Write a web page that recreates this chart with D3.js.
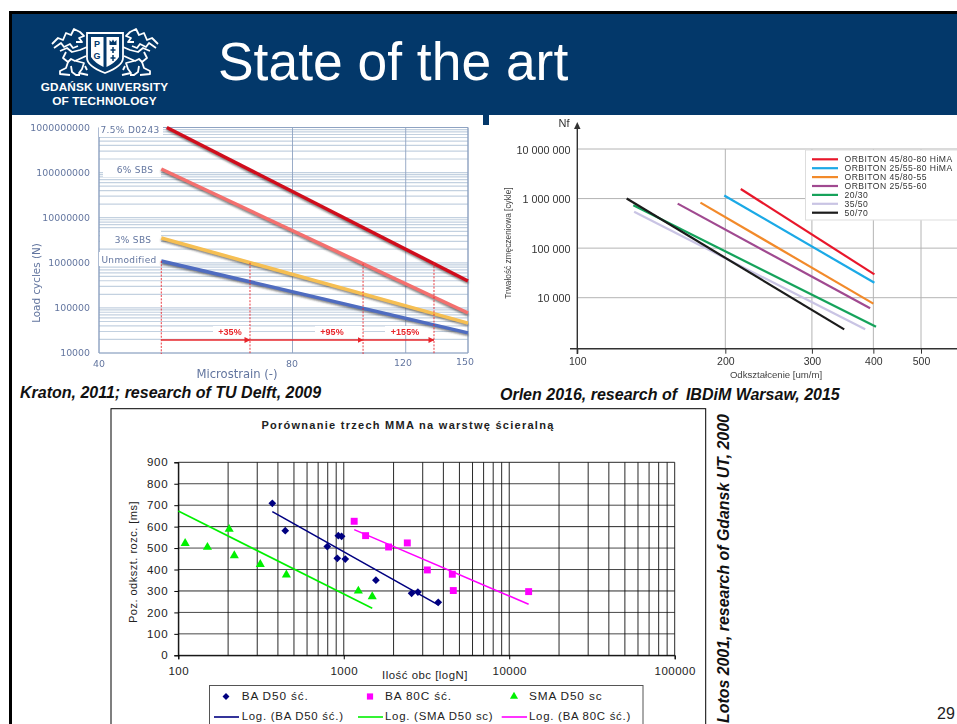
<!DOCTYPE html>
<html>
<head>
<meta charset="utf-8">
<title>State of the art</title>
<script src="https://cdn.jsdelivr.net/npm/d3@7"></script>
<style>
  html, body { margin: 0; padding: 0; background: #fff; overflow: hidden; }
  svg { display: block; }
  text { font-family: "Liberation Sans", Arial, sans-serif; }
</style>
</head>
<body>
<div id="slide"></div>
<script>
// chart 1, Kraton / TU Delft
const kratonYDecades = [1e9, 1e8, 1e7, 1e6, 1e5, 1e4];
const kratonXTicks = [40, 80, 120, 150];
const kratonNames = ['7.5% D0243', '6% SBS', '3% SBS', 'Unmodified'];
const kratonStrain = [[51, 150], [50, 150], [50, 150], [50, 150]];
const kratonCycles = [[1e9, 3.95e5], [1.2e8, 7.7e4], [3.55e6, 4.6e4], [1.1e6, 2.8e4]];
const kratonColors = ['#d0101c', '#f4706e', '#f6bf52', '#4f6cc0'];
const dropStrain = [50, 68.7, 103, 132.8];
const dropCycles = [1.1e6, 1e6, 9.5e5, 1e6];
const gainLabels = ['+35%', '+95%', '+155%'];

// chart 2, Orlen / IBDiM
const orlenYDecades = [1e7, 1e6, 1e5, 1e4];
const orlenYLabels = ['10 000 000', '1 000 000', '100 000', '10 000'];
const orlenXTicks = [100, 200, 300, 400, 500];
const orlenNames = ['ORBITON 45/80-80 HiMA', 'ORBITON 25/55-80 HiMA', 'ORBITON 45/80-55', 'ORBITON 25/55-60', '20/30', '35/50', '50/70'];
const orlenStrain = [[215, 402], [199, 402], [178, 400], [160, 394], [130, 405], [130.5, 385], [126, 349]];
const orlenCycles = [[1.56e6, 2.95e4], [1.15e6, 2e4], [8.3e5, 7.6e3], [7.9e5, 6.1e3], [7.3e5, 2.6e3], [5.4e5, 2.3e3], [1e6, 2.3e3]];
const orlenColors = ['#e8192c', '#1aa9e6', '#f28a2a', '#a04a90', '#12a25a', '#c9c4e4', '#1a1a1a'];

// chart 3, Lotos / Gdansk UT
const mmaXDecades = [100, 1000, 10000, 100000];
const mmaYTicks = [0, 100, 200, 300, 400, 500, 600, 700, 800, 900];
const baD50N = [370, 443, 795, 914, 927, 970, 1021, 1564, 2570, 2805, 3724];
const baD50Ms = [709, 581, 507, 452, 558, 555, 449, 350, 289, 295, 247];
const ba80cN = [1156, 1355, 1866, 2421, 3199, 4529, 4592, 13100];
const ba80cMs = [625, 558, 505, 524, 398, 378, 302, 297];
const smaN = [110, 150, 203, 218, 313, 450, 1225, 1486];
const smaMs = [522, 504, 588, 465, 424, 375, 300, 274];
const baD50TrendN = [370, 3724];
const baD50TrendMs = [670, 235];
const ba80cTrendN = [1156, 13100];
const ba80cTrendMs = [586, 238];
const smaTrendN = [100, 1486];
const smaTrendMs = [673, 219];

const navy = '#03386a';
const width = 957, height = 724;

const svg = d3.select('#slide').append('svg')
  .attr('width', width)
  .attr('height', height)
  .attr('viewBox', `0 0 ${width} ${height}`);

const defs = svg.append('defs');
defs.append('filter').attr('id', 'soft').attr('x', '-5%').attr('y', '-5%').attr('width', '110%').attr('height', '110%')
  .append('feGaussianBlur').attr('stdDeviation', 0.45);
defs.append('filter').attr('id', 'shadow').attr('x', '-5%').attr('y', '-20%').attr('width', '110%').attr('height', '140%')
  .append('feGaussianBlur').attr('stdDeviation', 0.9);
defs.append('marker').attr('id', 'redArrow').attr('viewBox', '0 0 6 6').attr('refX', 5.5).attr('refY', 3)
  .attr('markerWidth', 6).attr('markerHeight', 6).attr('markerUnits', 'userSpaceOnUse').attr('orient', 'auto')
  .append('path').attr('d', 'M0,0L6,3L0,6Z').attr('fill', '#e8262c');

function label(parent, txt, x, y, opts) {
  opts = opts || {};
  const t = parent.append('text')
    .attr('x', x).attr('y', y)
    .attr('dy', '0.35em')
    .attr('font-size', opts.size || 10)
    .attr('fill', opts.fill || '#222')
    .attr('text-anchor', opts.anchor || 'middle')
    .text(txt);
  if (opts.family) t.style('font-family', opts.family);
  if (opts.weight) t.attr('font-weight', opts.weight);
  if (opts.italic) t.attr('font-style', 'italic');
  if (opts.spacing) t.attr('letter-spacing', opts.spacing);
  if (opts.rotate) t.attr('transform', `rotate(${opts.rotate},${x},${y})`);
  return t;
}

function drawHeader() {
  svg.append('rect').attr('x', 9).attr('y', 11).attr('width', width - 9).attr('height', 3).attr('fill', '#000');
  svg.append('rect').attr('x', 9).attr('y', 11).attr('width', 3).attr('height', height - 11).attr('fill', '#000');
  svg.append('rect').attr('x', 12).attr('y', 14).attr('width', width - 12).attr('height', 101).attr('fill', navy);
  svg.append('rect').attr('x', 483).attr('y', 115).attr('width', 6).attr('height', 10).attr('fill', navy);

  svg.append('text').attr('x', 218).attr('y', 80)
    .attr('font-size', 53.4).attr('fill', '#fff').text('State of the art');

  const logo = svg.append('g');
  const griffin = [
    'M52 44L58 38L63 40L66 33L71 35L74 29L80 32L84 36L79 38L82 42L76 42',
    'M54 48L61 43L64 47L70 44L73 48L78 46',
    'M60 51L67 48L72 52L80 50L87 47',
    'M66 52L63 58L68 62L71 59L75 61L86 56',
    'M68 62L66 68L60 71L60 74L70 75',
    'M71 66L72 72L76 75L80 75',
    'M76 61L84 63L82 69L79 73L88 75',
    'M85 66L87 70'
  ];
  [0, 1].forEach(side => {
    const g = logo.append('g')
      .attr('transform', side ? 'translate(210,0) scale(-1,1)' : null)
      .attr('fill', 'none').attr('stroke', '#fff').attr('stroke-width', 1.8).attr('stroke-linejoin', 'round');
    griffin.forEach(d => g.append('path').attr('d', d));
  });
  logo.append('path').attr('d', 'M87 33H123V58Q123 66 105 73Q87 66 87 58Z')
    .attr('fill', navy).attr('stroke', '#fff').attr('stroke-width', 1.8);
  logo.append('path').attr('d', 'M91 37H103.5V67Q95 63 91 57Z').attr('fill', '#fff');
  logo.append('path').attr('d', 'M106.5 37H119V57Q115 63 106.5 67Z').attr('fill', '#fff');
  label(logo, 'P', 97, 44, { size: 9, weight: 'bold', fill: navy });
  label(logo, 'G', 97, 56, { size: 9, weight: 'bold', fill: navy });
  logo.append('path').attr('d', 'M109.5 45V40L111.5 42L113 39.5L114.5 42L116.5 40V45Z').attr('fill', navy);
  logo.append('path').attr('d', 'M113 47V53M110.5 50H115.5M113 55V61M110.5 58H115.5')
    .attr('stroke', navy).attr('stroke-width', 1.5).attr('fill', 'none');
  label(logo, 'GDAŃSK UNIVERSITY', 104.5, 86.5, { size: 11.8, weight: 'bold', fill: '#fff', spacing: 0.14 });
  label(logo, 'OF TECHNOLOGY', 104.5, 100.5, { size: 11.8, weight: 'bold', fill: '#fff', spacing: 0.14 });
}

function drawKraton() {
  const g = svg.append('g').attr('filter', 'url(#soft)');
  const x = d3.scaleLog().domain([40, 150]).range([99, 468]);
  const y = d3.scaleLog().domain([1e4, 1e9]).range([353, 127.5]);
  const textCol = '#62759f';
  const dejavu = '"DejaVu Sans"';

  // all log minor lines
  y.ticks(90).forEach(v => {
    g.append('line').attr('x1', 99).attr('x2', 468).attr('y1', y(v)).attr('y2', y(v))
      .attr('stroke', '#c3d1e0').attr('stroke-width', 1.2);
  });
  kratonXTicks.forEach(v => {
    g.append('line').attr('x1', x(v)).attr('x2', x(v)).attr('y1', 127.5).attr('y2', 353)
      .attr('stroke', '#8ea3c2').attr('stroke-width', 0.9);
  });
  g.append('path').attr('d', 'M99 127.5H468V353H99Z').attr('fill', 'none').attr('stroke', '#8ea3c2').attr('stroke-width', 1);

  // label patches over the grid
  [[99, 122, 64, 15], [103, 164, 58, 13], [100, 230, 61, 14], [99, 252, 62, 14], [213, 326, 37, 9], [315, 326, 48, 9], [385, 326, 49, 9]]
    .forEach(r => g.append('rect').attr('x', r[0]).attr('y', r[1]).attr('width', r[2]).attr('height', r[3]).attr('fill', '#fff'));

  kratonYDecades.forEach(v => {
    label(g, d3.format('d')(v), 90, y(v), { size: 9.4, fill: textCol, anchor: 'end', family: dejavu });
  });
  const xLabelY = [364, 364, 363, 362];
  const xLabelX = [99, 292, 403, 465];
  kratonXTicks.forEach((v, i) => {
    label(g, v, xLabelX[i], xLabelY[i], { size: 9.4, fill: textCol, family: dejavu });
  });
  label(g, 'Microstrain (-)', 237, 374, { size: 11.6, fill: textCol, family: dejavu });
  label(g, 'Load cycles (N)', 36, 283, { size: 10.4, fill: textCol, family: dejavu, rotate: -90 });

  const namePos = [[130, 130], [135, 170], [133, 240], [129, 260]];
  kratonNames.forEach((n, i) => {
    label(g, n, namePos[i][0], namePos[i][1], { size: 9, fill: textCol, family: dejavu, spacing: 0.35 });
  });

  const line = d3.line().x(d => x(d[0])).y(d => y(d[1]));
  kratonNames.forEach((n, i) => {
    const pts = d3.zip(kratonStrain[i], kratonCycles[i]);
    g.append('path').attr('d', line(pts)).attr('transform', 'translate(0,1.8)')
      .attr('fill', 'none').attr('stroke', '#333').attr('stroke-width', 2.4).attr('opacity', 0.75).attr('filter', 'url(#shadow)');
    g.append('path').attr('d', line(pts)).attr('fill', 'none')
      .attr('stroke', kratonColors[i]).attr('stroke-width', 3.5);
  });

  const red = '#e8262c';
  dropStrain.forEach((v, i) => {
    g.append('line').attr('x1', x(v)).attr('x2', x(v)).attr('y1', y(dropCycles[i])).attr('y2', 354)
      .attr('stroke', red).attr('stroke-width', 0.9).attr('stroke-dasharray', '2,1.4');
  });
  gainLabels.forEach((t, i) => {
    g.append('line').attr('x1', x(dropStrain[i])).attr('x2', x(dropStrain[i + 1]))
      .attr('y1', 340).attr('y2', 340).attr('stroke', red).attr('stroke-width', 1.5)
      .attr('marker-end', 'url(#redArrow)');
  });
  label(g, gainLabels[0], 230, 332, { size: 9, weight: 'bold', fill: red });
  label(g, gainLabels[1], 332, 332, { size: 9, weight: 'bold', fill: red });
  label(g, gainLabels[2], 405, 332, { size: 9, weight: 'bold', fill: red });
}

function drawOrlen() {
  const g = svg.append('g').attr('filter', 'url(#soft)');
  const x = d3.scaleLog().domain([100, 500]).range([577.3, 921]);
  const y = d3.scaleLog().domain([1e4, 1e7]).range([297.7, 149]);
  const axisY = 348.7, grid = '#b4b4b4', dark = '#333';

  orlenYDecades.forEach(v => {
    g.append('line').attr('x1', 577).attr('x2', width).attr('y1', y(v)).attr('y2', y(v))
      .attr('stroke', grid).attr('stroke-width', 1);
  });
  orlenXTicks.slice(1).forEach(v => {
    g.append('line').attr('x1', x(v)).attr('x2', x(v)).attr('y1', 149).attr('y2', axisY)
      .attr('stroke', grid).attr('stroke-width', 1);
  });

  const xAxis = d3.axisBottom(x).tickValues(orlenXTicks).tickFormat(d3.format('d')).tickSize(5).tickPadding(4);
  const ax = g.append('g').attr('transform', `translate(0,${axisY})`).call(xAxis);
  ax.select('.domain').remove();
  ax.selectAll('line').attr('stroke', dark);
  ax.selectAll('text').attr('font-size', 10.5).attr('fill', dark).style('font-family', '"Liberation Sans"');
  g.append('line').attr('x1', 570).attr('x2', width).attr('y1', axisY).attr('y2', axisY).attr('stroke', dark).attr('stroke-width', 1.4);
  g.append('line').attr('x1', 577.3).attr('x2', 577.3).attr('y1', 125).attr('y2', 354).attr('stroke', dark).attr('stroke-width', 1.4);
  g.append('path').attr('d', 'M577.3 122L580.5 129H574Z').attr('fill', dark);

  orlenYDecades.forEach((v, i) => {
    label(g, orlenYLabels[i], 570.5, y(v) + 1, { size: 10.8, fill: dark, anchor: 'end' });
  });
  label(g, 'Nf', 564, 123, { size: 11, fill: dark });
  label(g, 'Trwałość zmęczeniowa [cykle]', 508, 243, { size: 8.3, fill: '#444', rotate: -90 });
  label(g, 'Odkształcenie [um/m]', 776, 375, { size: 9.6, fill: '#444' });

  const line = d3.line().x(d => x(d[0])).y(d => y(d[1]));
  orlenNames.forEach((n, i) => {
    g.append('path').attr('d', line(d3.zip(orlenStrain[i], orlenCycles[i])))
      .attr('fill', 'none').attr('stroke', orlenColors[i]).attr('stroke-width', 2.2);
  });

  g.append('rect').attr('x', 805.5).attr('y', 150).attr('width', 155).attr('height', 70)
    .attr('fill', '#fff').attr('stroke', '#ddd');
  const rowY = d3.scaleLinear().domain([0, orlenNames.length - 1]).range([159.3, 212.7]);
  orlenNames.forEach((n, i) => {
    g.append('line').attr('x1', 812).attr('x2', 838).attr('y1', rowY(i)).attr('y2', rowY(i))
      .attr('stroke', orlenColors[i]).attr('stroke-width', 2.2);
    label(g, n, 844.5, rowY(i), { size: 8.6, fill: '#333', anchor: 'start', spacing: 0.45 });
  });
}

function drawMma() {
  const g = svg.append('g');
  g.append('rect').attr('x', 111).attr('y', 408.7).attr('width', 594.7).attr('height', 340)
    .attr('fill', '#fff').attr('stroke', '#000').attr('stroke-width', 1);

  const x = d3.scaleLog().domain([100, 100000]).range([178.3, 674.7]);
  const y = d3.scaleLinear().domain([0, 900]).range([655.3, 462.3]);
  const ink = '#222';

  mmaYTicks.forEach(v => {
    g.append('line').attr('x1', 178.3).attr('x2', 674.7).attr('y1', y(v)).attr('y2', y(v))
      .attr('stroke', v % 300 === 0 ? '#111' : '#333').attr('stroke-width', 0.9);
  });
  x.ticks(27).forEach(v => {
    g.append('line').attr('x1', x(v)).attr('x2', x(v)).attr('y1', 462.3).attr('y2', 655.3)
      .attr('stroke', '#111').attr('stroke-width', 0.9);
  });

  const yAxis = d3.axisLeft(y).tickValues(mmaYTicks).tickSize(4).tickPadding(6);
  const ay = g.append('g').attr('transform', 'translate(178.3,0)').call(yAxis);
  ay.select('.domain').attr('stroke', '#000');
  ay.selectAll('line').attr('stroke', '#000');
  ay.selectAll('text').attr('font-size', 11.5).attr('fill', ink).attr('letter-spacing', 0.7)
    .style('font-family', '"Liberation Sans"');

  const xAxis = d3.axisBottom(x).tickValues(mmaXDecades).tickFormat(d3.format('d')).tickSize(4).tickPadding(8);
  const ax = g.append('g').attr('transform', 'translate(0,655.3)').call(xAxis);
  ax.select('.domain').attr('stroke', '#000');
  ax.selectAll('line').attr('stroke', '#000');
  ax.selectAll('text').attr('font-size', 11.5).attr('fill', ink).attr('letter-spacing', 0.5)
    .style('font-family', '"Liberation Sans"');

  label(g, 'Porównanie trzech MMA na warstwę ścieralną', 408, 425, { size: 11, weight: 'bold', fill: ink, spacing: 1.27 });
  label(g, 'Poz. odkszt. rozc. [ms]', 133, 562, { size: 11, fill: ink, rotate: -90, spacing: 0.5 });
  label(g, 'Ilość obc [logN]', 425, 675, { size: 11.4, fill: ink, spacing: 0.5 });

  const line = d3.line().x(d => x(d[0])).y(d => y(d[1]));
  const trends = [
    [baD50TrendN, baD50TrendMs, '#000080'],
    [smaTrendN, smaTrendMs, '#00f000'],
    [ba80cTrendN, ba80cTrendMs, '#ff00ff']
  ];
  trends.forEach(t => {
    g.append('path').attr('d', line(d3.zip(t[0], t[1]))).attr('fill', 'none')
      .attr('stroke', t[2]).attr('stroke-width', 1.6);
  });

  // the diamond is a turned square, d3's own diamond comes out too narrow
  const series = [
    [baD50N, baD50Ms, '#000080', d3.symbolSquare, 30, 45],
    [ba80cN, ba80cMs, '#ff00ff', d3.symbolSquare, 48, 0],
    [smaN, smaMs, '#00f000', d3.symbolTriangle, 36, 0]
  ];
  series.forEach(s => {
    const path = d3.symbol().type(s[3]).size(s[4]);
    g.append('g').selectAll('path').data(d3.zip(s[0], s[1])).join('path')
      .attr('d', path)
      .attr('transform', d => `translate(${x(d[0])},${y(d[1])}) rotate(${s[5]})`)
      .attr('fill', s[2]);
  });

  // legend
  g.append('rect').attr('x', 209.5).attr('y', 685.5).attr('width', 433.5).attr('height', 60)
    .attr('fill', '#fff').attr('stroke', '#555').attr('stroke-width', 1);
  const legendSize = { size: 11.8, fill: ink, anchor: 'start', spacing: 0.85 };
  const row1 = [['BA D50 ść.', 226, 241.7, 0], ['BA 80C ść.', 370, 385, 1], ['SMA D50 sc', 514, 529, 2]];
  row1.forEach(r => {
    const s = series[r[3]];
    g.append('path').attr('d', d3.symbol().type(s[3]).size(s[4] * 0.8)())
      .attr('transform', `translate(${r[1]},696.5) rotate(${s[5]})`).attr('fill', s[2]);
    label(g, r[0], r[2], 696, legendSize);
  });
  const row2 = [['Log. (BA D50 ść.)', 214, 239, 241.7, '#000080'], ['Log. (SMA D50 sc)', 358, 383, 385, '#00f000'], ['Log. (BA 80C ść.)', 501.7, 527, 529, '#ff00ff']];
  row2.forEach(r => {
    g.append('line').attr('x1', r[1]).attr('x2', r[2]).attr('y1', 717).attr('y2', 717)
      .attr('stroke', r[4]).attr('stroke-width', 1.6);
    label(g, r[0], r[3], 716.5, { size: 11.4, fill: ink, anchor: 'start', spacing: 0.75 });
  });
}

function drawCaptions() {
  const cap = { size: 16, weight: 'bold', italic: true, fill: '#111', anchor: 'start' };
  label(svg, 'Kraton, 2011; research of TU Delft, 2009', 20, 392, cap);
  label(svg, 'Orlen 2016, research of  IBDiM Warsaw, 2015', 500, 394, cap).style('white-space', 'pre');
  label(svg, 'Lotos 2001, research of Gdansk UT, 2000', 723, 723, Object.assign({}, cap, { size: 15.9, rotate: -90 }));
  svg.append('text').attr('x', 937).attr('y', 719).attr('font-size', 16).attr('fill', '#222').text('29');
}

drawKraton();
drawOrlen();
drawMma();
drawHeader();
drawCaptions();
</script>
</body>
</html>
